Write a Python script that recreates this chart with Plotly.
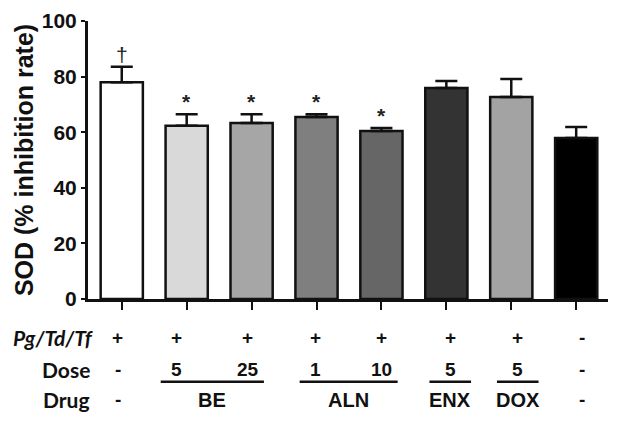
import plotly.graph_objects as go

# ---- data ----
groups = ["Pg/Td/Tf", "BE 5", "BE 25", "ALN 1", "ALN 10", "ENX 5", "DOX 5", "Control"]
sod_mean = [78.0, 62.3, 63.3, 65.5, 60.4, 75.9, 72.7, 57.9]
sod_sem = [5.5, 4.2, 3.2, 1.0, 1.1, 2.5, 6.4, 4.0]
bar_colors = ["#ffffff", "#d9d9d9", "#a6a6a6", "#7f7f7f", "#666666", "#333333", "#a3a3a3", "#000000"]
marks = ["†", "*", "*", "*", "*", "", "", ""]
infection = ["+", "+", "+", "+", "+", "+", "+", "-"]
dose_labels = ["-", "5", "25", "1", "10", "5", "5", "-"]
drug_groups = [("-", [0]), ("BE", [1, 2]), ("ALN", [3, 4]), ("ENX", [5]), ("DOX", [6]), ("-", [7])]
y_ticks = [0, 20, 40, 60, 80, 100]

x = list(range(len(groups)))
ARIAL = "Arial, Liberation Sans, sans-serif"

fig = go.Figure()
fig.add_trace(go.Bar(
    x=x, y=sod_mean,
    width=0.65,
    marker=dict(color=bar_colors, line=dict(color="#111111", width=2.5)),
    error_y=dict(type="data", array=sod_sem, arrayminus=[0]*len(sod_sem), symmetric=False,
                 color="#111111", thickness=2.5, width=11),
    showlegend=False,
))

ann = []
# significance marks
for i, m in enumerate(marks):
    if m:
        ann.append(dict(x=i, y=sod_mean[i] + sod_sem[i], xref="x", yref="y",
                        text=m if m == "†" else "<b>*</b>",
                        showarrow=False, yanchor="bottom", yshift=-1,
                        font=dict(family=ARIAL, size=21, color="#222")))

# table below
tab_off = [-0.06, -0.15, -0.06, -0.01, 0.0, 0.06, 0.1, 0.09]
row_y = [-0.137, -0.255, -0.362]
lab_font = dict(family="Lato, Arial", size=21, color="#111")
val_font = dict(family=ARIAL, size=19, color="#111")
for txt, ry, px in [("<b><i>Pg/Td/Tf</i></b>", row_y[0], 96), ("<b>Dose</b>", row_y[1], 92),
                    ("<b>Drug</b>", row_y[2], 92)]:
    ann.append(dict(x=(px - 88) / 520.0, y=ry, xref="paper", yref="paper", text=txt,
                    showarrow=False, xanchor="right", yanchor="middle", font=lab_font))

for i in x:
    ann.append(dict(x=i + tab_off[i], y=row_y[0], xref="x", yref="paper", text="<b>%s</b>" % infection[i],
                    showarrow=False, xanchor="center", yanchor="middle", font=val_font))
    ann.append(dict(x=i + tab_off[i], y=row_y[1], xref="x", yref="paper", text="<b>%s</b>" % dose_labels[i],
                    showarrow=False, xanchor="center", yanchor="middle", font=val_font))

shapes = []
for name, idx in drug_groups:
    cx = sum(i + tab_off[i] for i in idx) / len(idx)
    if name == "-":
        ann.append(dict(x=cx, y=row_y[2], xref="x", yref="paper", text="<b>-</b>", showarrow=False,
                        xanchor="center", yanchor="middle", font=val_font))
        continue
    ann.append(dict(x=cx, y=row_y[2], xref="x", yref="paper", text="<b>%s</b>" % name, showarrow=False,
                    xanchor="center", yanchor="middle",
                    font=dict(family=ARIAL, size=20, color="#111")))
    half = 0.32 if len(idx) == 1 else 0.25
    x0 = min(i + tab_off[i] for i in idx) - half
    x1 = max(i + tab_off[i] for i in idx) + half
    shapes.append(dict(type="line", xref="x", yref="paper", x0=x0, x1=x1, y0=-0.298, y1=-0.298,
                       line=dict(color="#111", width=2.5)))

fig.update_layout(
    width=621, height=422,
    margin=dict(l=88, r=13, t=21, b=123),
    plot_bgcolor="white", paper_bgcolor="white",
    annotations=ann, shapes=shapes,
    xaxis=dict(range=[-0.52, 7.49], tickmode="array", tickvals=x, ticktext=[""] * len(x),
               showline=True, linecolor="#111", linewidth=3, ticks="outside", ticklen=8,
               tickwidth=2, tickcolor="#111", showgrid=False, zeroline=False, automargin=False),
    yaxis=dict(range=[0, 100], tickvals=y_ticks, ticktext=["<b>%d</b>" % t for t in y_ticks],
               showline=True, linecolor="#111", linewidth=3,
               ticks="outside", ticklen=4, tickwidth=2, tickcolor="#111", showgrid=False,
               zeroline=False, automargin=False,
               tickfont=dict(family=ARIAL, size=21, color="#111"),
               title=dict(text="<b>SOD (% inhibition rate)</b>", standoff=2,
                          font=dict(family=ARIAL, size=25, color="#111"))),
)

fig.write_html("out.html", config={"displayModeBar": False},
               post_script="document.body.style.margin='0';document.body.style.padding='0';")
